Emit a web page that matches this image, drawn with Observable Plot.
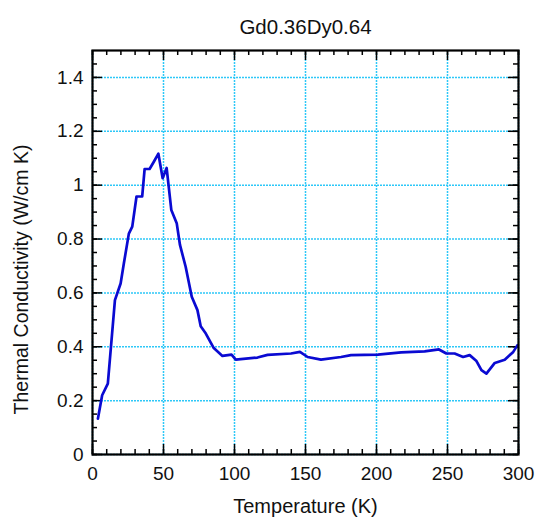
<!DOCTYPE html>
<html>
<head>
<meta charset="utf-8">
<script src="https://cdn.jsdelivr.net/npm/d3@7"></script>
<script src="https://cdn.jsdelivr.net/npm/@observablehq/plot@0.6"></script>
<style>
  body { margin: 0; background: #fff; }
  svg { font-family: "Liberation Sans", Arial, sans-serif; }
</style>
</head>
<body>
<div id="chart"></div>
<script>
const title = "Gd0.36Dy0.64";
const xLabel = "Temperature (K)";
const yLabel = "Thermal Conductivity (W/cm K)";

const temperature = [3.8, 6.8, 10.8, 15.8, 19.8, 22.1, 25.6, 28, 31, 35, 36.7, 40.2, 43.3, 46.4, 49.4, 52.2, 55.5, 59.3, 61.6, 65.6, 69.9, 73.9, 76.2, 79.8, 85.4, 91.5, 97.9, 100.9, 116.2, 123.3, 139.8, 146.1, 151.5, 160.9, 175, 182.1, 201, 217.4, 233.9, 244, 249.2, 255, 261, 265.6, 270.4, 273.9, 277.4, 283.3, 290.3, 296.3, 299.3];
const conductivity = [0.133, 0.22, 0.263, 0.573, 0.635, 0.71, 0.82, 0.846, 0.958, 0.958, 1.06, 1.06, 1.088, 1.117, 1.026, 1.064, 0.908, 0.859, 0.778, 0.697, 0.586, 0.536, 0.476, 0.449, 0.395, 0.366, 0.371, 0.352, 0.36, 0.37, 0.375, 0.381, 0.362, 0.352, 0.362, 0.369, 0.371, 0.379, 0.383, 0.39, 0.375, 0.375, 0.362, 0.369, 0.347, 0.313, 0.30, 0.34, 0.352, 0.381, 0.406];

const xMajor = [0, 50, 100, 150, 200, 250, 300];
const yMajor = [0, 0.2, 0.4, 0.6, 0.8, 1, 1.2, 1.4];
const xMinor = d3.range(0, 301, 10);
const yMinor = d3.range(0, 30).map(i => i * 0.05);
const xDomain = [0, 300];
const yDomain = [0, 1.5];

const data = temperature.map((t, i) => ({t, k: conductivity[i]}));

const W = 535, H = 518, mL = 92, mR = 17, mT = 50, mB = 64;
const pw = W - mL - mR, ph = H - mT - mB;
// tick lengths in pixels, converted to data units for the rules
const minorLen = 5, majorLen = 10;
const yPx = (yDomain[1] - yDomain[0]) / ph;
const xPx = (xDomain[1] - xDomain[0]) / pw;
const tickStyle = {stroke: "#000", strokeWidth: 1.5};
const gridStyle = {stroke: "#2ec8f8", strokeOpacity: 1, strokeDasharray: "2,1", strokeWidth: 1.5};

function xTicks(values, len) {
  return [
    Plot.ruleX(values, {x: d => d, y1: yDomain[0], y2: yDomain[0] + len * yPx, ...tickStyle}),
    Plot.ruleX(values, {x: d => d, y1: yDomain[1] - len * yPx, y2: yDomain[1], ...tickStyle})
  ];
}
function yTicks(values, len) {
  return [
    Plot.ruleY(values, {y: d => d, x1: xDomain[0], x2: xDomain[0] + len * xPx, ...tickStyle}),
    Plot.ruleY(values, {y: d => d, x1: xDomain[1] - len * xPx, x2: xDomain[1], ...tickStyle})
  ];
}

const chart = Plot.plot({
  width: W,
  height: H,
  marginLeft: mL,
  marginRight: mR,
  marginTop: mT,
  marginBottom: mB,
  style: {fontFamily: "'Liberation Sans', Arial, sans-serif", color: "#111", background: "#fff"},
  x: {domain: xDomain},
  y: {domain: yDomain},
  marks: [
    Plot.gridX(xMajor, gridStyle),
    Plot.gridY(yMajor, gridStyle),
    Plot.axisX(xMajor, {anchor: "bottom", tickSize: 0, tickPadding: 12, label: null, fontSize: 19, tickFormat: d => String(d)}),
    Plot.axisY(yMajor, {anchor: "left", tickSize: 0, tickPadding: 9, label: null, fontSize: 19, tickFormat: d => String(d)}),
    ...xTicks(xMinor, minorLen),
    ...xTicks(xMajor, majorLen),
    ...yTicks(yMinor, minorLen),
    ...yTicks(yMajor, majorLen),
    Plot.line(data, {x: "t", y: "k", stroke: "#0a0ad2", strokeWidth: 2.7, strokeLinejoin: "round"}),
    Plot.frame({stroke: "#000", strokeWidth: 2.2}),
    Plot.text([title], {frameAnchor: "top", dy: -31, fontSize: 20.5, fill: "#111"}),
    Plot.text([xLabel], {frameAnchor: "bottom", dy: 58, fontSize: 20, fill: "#111"}),
    Plot.text([yLabel], {frameAnchor: "left", textAnchor: "middle", dx: -71, dy: 27, rotate: -90, fontSize: 19.5, fill: "#111"})
  ]
});
document.getElementById("chart").append(chart);
</script>
</body>
</html>
